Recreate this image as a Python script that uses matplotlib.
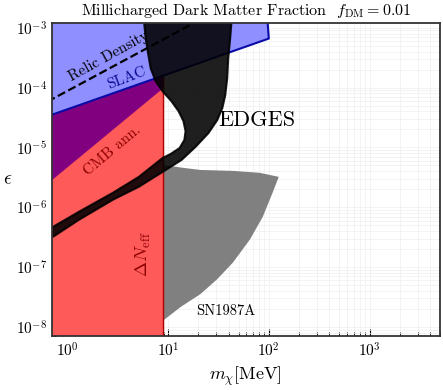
import matplotlib
matplotlib.use("Agg")
import matplotlib.pyplot as plt

plt.rcParams["font.family"] = "cmr10"
plt.rcParams["mathtext.fontset"] = "cm"
plt.rcParams["axes.formatter.use_mathtext"] = True

# Delta N_eff excluded band (rectangle up to ~9 MeV)
neff_m = [0.1, 8.9, 8.9, 0.1]
neff_eps = [1e-10, 1e-10, 1e-2, 1e-2]

# CMB annihilation
cmb_m = [0.5, 8.9, 8.9, 0.5]
cmb_eps = [1.77e-6, 9.7e-5, 1e-2, 1e-2]

# SLAC
slac_m = [0.5, 100, 96.5, 0.5]
slac_eps = [2.88e-5, 6.6e-4, 1.5e-3, 1.5e-3]

# SN1987A
sn_m = [5.0, 8.83, 14.2, 20.9, 44.2, 81.5, 125.5, 109, 87.3, 65, 44.2, 30.7, 20.9, 13.3, 8.83, 5.0]
sn_eps = [5.8e-6, 5.1e-6, 4.55e-6, 4.2e-6, 4.05e-6, 3.76e-6, 3.22e-6, 1.75e-6,
          6.98e-7, 2.9e-7, 1.2e-7, 6.27e-8, 3.53e-8, 2.15e-8, 1.26e-8, 5e-9]

# EDGES band: upper/left edge then lower/right edge
edges_up_m = [5.6, 6.0, 6.28, 6.72, 7.53, 8.83, 10.8, 12.7, 14.2, 14.9, 14.5, 13.0, 10.6, 8.83, 5.12, 2.84, 1.31, 0.728, 0.554]
edges_up_eps = [2e-3, 6.56e-4, 3.99e-4, 2.08e-4, 1.27e-4, 8.65e-5, 5.90e-5, 4.03e-5, 2.75e-5, 1.87e-5,
                1.33e-5, 9.77e-6, 7.77e-6, 6.67e-6, 3.22e-6, 1.75e-6, 8.45e-7, 4.76e-7, 3.79e-7]
edges_lo_m = [43.5, 41.3, 39.5, 38.6, 36.9, 34.5, 30.7, 25.1, 18.7, 13.6, 8.83, 5.12, 2.84, 1.31, 0.728, 0.554]
edges_lo_eps = [2e-3, 6.56e-4, 3.05e-4, 1.42e-4, 7.42e-5, 4.51e-5, 2.85e-5, 1.73e-5, 1.02e-5,
                6.18e-6, 3.90e-6, 2.20e-6, 1.34e-6, 6.22e-7, 3.25e-7, 2.58e-7]

# relic density line
relic_m = [0.5, 30]
relic_eps = [4.7e-5, 1.9e-3]

fig = plt.figure(figsize=(4.43, 3.9), dpi=100)
ax = fig.add_axes([0.117, 0.138, 0.876, 0.803])

ax.fill(sn_m, sn_eps, facecolor="#808080", lw=0, zorder=1.5)
ax.fill(neff_m, neff_eps, facecolor="#ff5a5a", edgecolor="#b00000", lw=1, zorder=2)
ax.fill(cmb_m, cmb_eps, facecolor="#800080", lw=0, zorder=3)
ax.fill(slac_m, slac_eps, facecolor="#8f8fff", lw=0, zorder=4)
ax.plot(slac_m[:3], slac_eps[:3], color="#0a0aa8", lw=1.5, zorder=5)
ax.plot(relic_m, relic_eps, color="black", ls="--", lw=1.6, zorder=6)
ax.fill(edges_up_m + edges_lo_m[::-1], edges_up_eps + edges_lo_eps[::-1],
        facecolor="black", alpha=0.88, edgecolor="black", lw=1.5, zorder=7)

ax.text(2.55, 3.35e-4, "Relic Density", rotation=29, fontsize=11, ha="center", va="center", zorder=8)
ax.text(3.9, 1.45e-4, "SLAC", rotation=21, fontsize=11, color="#0a0a90", ha="center", va="center", zorder=8)
ax.text(2.77, 8.7e-6, "CMB ann.", rotation=40, fontsize=11, color="#8b0000", ha="center", va="center", zorder=8)
ax.text(76, 2.85e-5, "EDGES", fontsize=16, ha="center", va="center", zorder=8)
ax.text(5.7, 1.63e-7, r"$\Delta N_{\rm eff}$", rotation=90, fontsize=13, color="#8b0000", ha="center", va="center", zorder=8)
ax.text(37.7, 1.85e-8, "SN1987A", fontsize=10.5, ha="center", va="center", zorder=8)

ax.set_xscale("log")
ax.set_yscale("log")
ax.set_xlim(0.7, 5000)
ax.set_ylim(7e-9, 1.2e-3)
ax.grid(True, which="both", color="#efefef", lw=0.5, zorder=0)
ax.set_axisbelow(True)
ax.tick_params(which="both", direction="in", labelsize=11)
ax.tick_params(which="major", length=5)
ax.tick_params(which="minor", length=3)
for s in ax.spines.values():
    s.set_linewidth(1.3)
    s.set_color("#333333")
    s.set_zorder(10)

ax.set_title(r"Millicharged Dark Matter Fraction  $f_{\rm DM}=0.01$", fontsize=11.5)
ax.set_xlabel(r"$m_\chi$[MeV]", fontsize=13)
ax.set_ylabel(r"$\epsilon$", fontsize=14, rotation=0, labelpad=6, va="center")

fig.savefig("out.png", dpi=100)
